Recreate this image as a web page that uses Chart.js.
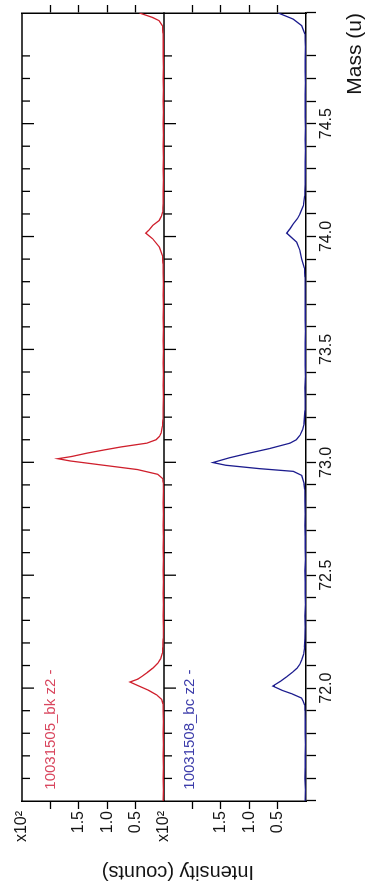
<!DOCTYPE html>
<html>
<head>
<meta charset="utf-8">
<title>Mass spectra 71.5–75 u</title>
<script src="https://cdn.jsdelivr.net/npm/chart.js@4.4.1/dist/chart.umd.min.js"></script>
<style>
  html, body { margin: 0; padding: 0; background: #fff; width: 368px; height: 888px; overflow: hidden; }
  /* the plot is laid out landscape and turned a quarter turn counter-clockwise */
  #wrap { position: absolute; left: 0; top: 0; width: 888px; height: 368px;
          transform-origin: 0 0; transform: translate(0, 888px) rotate(-90deg); }
  canvas { display: block; }
</style>
</head>
<body>
<div id="wrap"><canvas id="spec" width="888" height="368"></canvas></div>
<script>
// ---- data -------------------------------------------------------------
const seriesNames = ['10031505_bk z2 -', '10031508_bc z2 -'];

// upper trace (counts vs mass)
const redMass = [
  71.50, 71.55, 71.60, 71.65, 71.70, 71.75, 71.80, 71.85, 71.90, 71.93,
  71.95, 71.97, 71.99, 72.01, 72.027, 72.04, 72.055, 72.07, 72.09, 72.11,
  72.13, 72.155, 72.18, 72.22, 72.27, 72.32, 72.37, 72.42, 72.47, 72.52,
  72.57, 72.62, 72.67, 72.72, 72.77, 72.82, 72.87, 72.91, 72.928, 72.947,
  72.968, 72.987, 73.006, 73.016, 73.026, 73.041, 73.055, 73.068, 73.085, 73.10,
  73.115, 73.13, 73.16, 73.19, 73.24, 73.29, 73.34, 73.39, 73.44, 73.49,
  73.54, 73.59, 73.64, 73.69, 73.74, 73.79, 73.84, 73.88, 73.916, 73.953,
  73.99, 74.015, 74.03, 74.049, 74.071, 74.09, 74.108, 74.146, 74.20, 74.25,
  74.30, 74.35, 74.40, 74.45, 74.50, 74.55, 74.60, 74.65, 74.70, 74.75,
  74.80, 74.85, 74.90, 74.934, 74.956, 74.97, 74.99
];
const redCounts = [
  1.4, 1.0, 1.7, 1.1, 1.5, 0.9, 1.3, 1.0, 1.6, 1.8,
  4, 13, 27, 45, 60, 46, 37, 29, 19, 11,
  6, 3, 2.2, 1.5, 1.2, 1.6, 1.0, 1.4, 1.1, 1.6,
  0.9, 1.3, 1.1, 1.5, 1.0, 1.4, 1.2, 1.6, 2.5, 11,
  47, 106, 165, 187, 162, 135, 105, 76, 30, 14,
  8, 5, 3, 2, 1.5, 1.2, 1.6, 1.0, 1.4, 1.1,
  1.5, 1.0, 1.3, 1.1, 1.5, 1.2, 1.4, 1.8, 3, 8,
  20, 32, 26, 20, 8.5, 4.5, 2.5, 1.6, 1.3, 1.0,
  1.5, 1.1, 1.4, 0.9, 1.3, 1.1, 1.5, 1.0, 1.4, 1.2,
  1.5, 1.3, 1.8, 3, 8.5, 20, 43
];

// lower trace (counts vs mass)
const blueMass = [
  71.50, 71.55, 71.60, 71.65, 71.70, 71.75, 71.80, 71.85, 71.90, 71.925,
  71.942, 71.956, 71.975, 71.99, 72.009, 72.03, 72.05, 72.07, 72.088, 72.105,
  72.124, 72.15, 72.18, 72.22, 72.27, 72.32, 72.37, 72.42, 72.47, 72.52,
  72.57, 72.62, 72.67, 72.72, 72.77, 72.83, 72.88, 72.906, 72.942, 72.96,
  72.972, 72.987, 72.999, 73.02, 73.038, 73.061, 73.085, 73.10, 73.12, 73.145,
  73.17, 73.23, 73.28, 73.33, 73.38, 73.43, 73.48, 73.53, 73.58, 73.63,
  73.68, 73.73, 73.78, 73.82, 73.86, 73.901, 73.938, 73.975, 74.015, 74.035,
  74.056, 74.08, 74.10, 74.137, 74.18, 74.23, 74.28, 74.33, 74.38, 74.43,
  74.48, 74.53, 74.58, 74.63, 74.68, 74.73, 74.78, 74.84, 74.897, 74.934,
  74.963, 74.99
];
const blueCounts = [
  1.6, 1.2, 1.9, 1.3, 1.7, 1.1, 1.6, 1.3, 1.9, 2.5,
  5, 8, 25, 42, 58.5, 45, 34, 24, 16, 11,
  7.7, 4, 2.6, 2, 1.5, 1.8, 1.2, 1.7, 1.3, 1.8,
  1.1, 1.6, 1.3, 1.8, 1.4, 1.8, 2.4, 3.5, 7.6, 22.5,
  82, 141, 164, 135, 105, 64, 28, 17, 10.6, 6,
  3.5, 1.8, 1.5, 1.8, 1.2, 1.6, 1.3, 1.7, 1.1, 1.5,
  1.3, 1.7, 1.4, 2.0, 3, 7.6, 10.6, 16.5, 34, 28,
  22.5, 15, 10.6, 4.8, 2.5, 1.6, 1.3, 1.7, 1.2, 1.6,
  1.1, 1.5, 1.3, 1.7, 1.2, 1.6, 1.3, 1.2, 2, 7.6,
  22.5, 49
];

// axis ticks: mass labels every 0.5 u, intensity ticks every 50 counts (shown as x10^2)
const massLabels = [72.0, 72.5, 73.0, 73.5, 74.0, 74.5];
const intensityLabels = { 50: '0.5', 100: '1.0', 150: '1.5', 200: '', 250: 'x10\u00B2' };

// ---- styling ----------------------------------------------------------
const FONT = "'Liberation Sans', Arial, sans-serif";
const RED = '#cf1f2c';
const BLUE = '#1c1c8e';
const RED_TEXT = '#d9465e';
const BLUE_TEXT = '#3c3caa';
const INK = '#141414';

const toPoints = (xs, ys) => xs.map((m, i) => ({ x: m, y: ys[i] }));

function intensityTick(v) {
  const k = Math.round(v);
  return Object.prototype.hasOwnProperty.call(intensityLabels, k) ? intensityLabels[k] : '';
}
function hideEdgeTicks(ctx) {
  const v = ctx.tick ? Math.round(ctx.tick.value) : 0;
  return (v === 0 || v === 250) ? 'rgba(0,0,0,0)' : '#000';
}

function leftPanelAxis() {
  return {
    type: 'linear', position: 'left', stack: 'left', stackWeight: 1, offset: false,
    min: 0, max: 250,
    afterFit: s => { s.width = 57; },
    border: { display: true, color: '#000', width: 1.5 },
    grid: { drawOnChartArea: false, drawTicks: true, tickLength: 8, tickWidth: 1.3, tickColor: hideEdgeTicks },
    ticks: { stepSize: 50, autoSkip: false, padding: 2, color: INK,
             font: { family: FONT, size: 16 }, callback: intensityTick }
  };
}
function rightPanelAxis() {
  return {
    type: 'linear', position: 'right', stack: 'right', stackWeight: 1, offset: false,
    min: 0, max: 250,
    afterFit: s => { s.width = 13; },
    border: { display: true, color: '#000', width: 1.5 },
    grid: { drawOnChartArea: false, drawTicks: true, tickLength: 8, tickWidth: 1.3, tickColor: hideEdgeTicks },
    ticks: { display: false, stepSize: 50 }
  };
}

// frame lines along the top of each panel, inward mass ticks, and trace labels
const panelFrame = {
  id: 'panelFrame',
  beforeDatasetsDraw(chart) {
    const { ctx, chartArea } = chart;
    const xs = chart.scales.x;
    const tops = [chart.scales.yUp.top, chart.scales.yLow.top];
    ctx.save();
    ctx.strokeStyle = '#000';
    ctx.lineWidth = 1.5;
    tops.forEach(t => {
      ctx.beginPath(); ctx.moveTo(chartArea.left, t); ctx.lineTo(chartArea.right, t); ctx.stroke();
    });
    ctx.lineWidth = 1.3;
    xs.ticks.forEach(tk => {
      const v = tk.value;
      if (v <= xs.min + 1e-6 || v >= xs.max - 0.05) return;
      const px = xs.getPixelForValue(v);
      const major = Math.abs(v * 2 - Math.round(v * 2)) < 1e-6;
      const len = major ? 12 : 8;
      tops.forEach(t => {
        ctx.beginPath(); ctx.moveTo(px, t); ctx.lineTo(px, t + len); ctx.stroke();
      });
    });
    ctx.restore();
  },
  afterDraw(chart) {
    const { ctx } = chart;
    const xs = chart.scales.x;
    ctx.save();
    ctx.font = '15px ' + FONT;
    ctx.textAlign = 'left';
    ctx.textBaseline = 'middle';
    ctx.fillStyle = RED_TEXT;
    ctx.fillText(seriesNames[0], xs.getPixelForValue(71.55), chart.scales.yUp.getPixelForValue(200));
    ctx.fillStyle = BLUE_TEXT;
    ctx.fillText(seriesNames[1], xs.getPixelForValue(71.55), chart.scales.yLow.getPixelForValue(204));
    ctx.restore();
  }
};

new Chart(document.getElementById('spec'), {
  type: 'line',
  data: {
    datasets: [
      { label: seriesNames[0], data: toPoints(redMass, redCounts), xAxisID: 'x', yAxisID: 'yUp',
        borderColor: RED, borderWidth: 1.3, pointRadius: 0, tension: 0, fill: false },
      { label: seriesNames[1], data: toPoints(blueMass, blueCounts), xAxisID: 'x', yAxisID: 'yLow',
        borderColor: BLUE, borderWidth: 1.3, pointRadius: 0, tension: 0, fill: false }
    ]
  },
  options: {
    responsive: false,
    animation: false,
    devicePixelRatio: 1,
    layout: { padding: { top: 22, right: 0, bottom: 0, left: 0 } },
    plugins: { legend: { display: false }, tooltip: { enabled: false } },
    scales: {
      x: {
        type: 'linear', position: 'bottom', min: 71.5, max: 74.99,
        afterFit: s => { s.height = 62; },
        border: { display: true, color: '#000', width: 1.5 },
        grid: { drawOnChartArea: false, drawTicks: true, tickLength: 10, tickWidth: 1.3, color: '#000' },
        ticks: {
          stepSize: 0.1, autoSkip: false, maxRotation: 0, padding: 1, color: INK,
          font: { family: FONT, size: 16 },
          callback: v => {
            const hit = massLabels.find(m => Math.abs(m - v) < 1e-6);
            return hit === undefined ? '' : hit.toFixed(1);
          }
        },
        title: { display: true, text: 'Mass (u)', align: 'end', color: INK,
                 font: { family: FONT, size: 21 }, padding: { top: 3, bottom: 0 } }
      },
      // stacked panels: the first axis listed in a stack sits at the bottom
      yLow: leftPanelAxis(),
      yUp: leftPanelAxis(),
      yLowR: rightPanelAxis(),
      yUpR: rightPanelAxis(),
      yTitle: {
        type: 'linear', position: 'left', weight: 10, min: 0, max: 1,
        afterFit: s => { s.width = 30; },
        border: { display: false }, grid: { display: false }, ticks: { display: false },
        title: { display: true, text: 'Intensity (counts)     ', color: INK,
                 font: { family: FONT, size: 20 }, padding: { top: 4, bottom: 0 } }
      }
    }
  },
  plugins: [panelFrame]
});
</script>
</body>
</html>
